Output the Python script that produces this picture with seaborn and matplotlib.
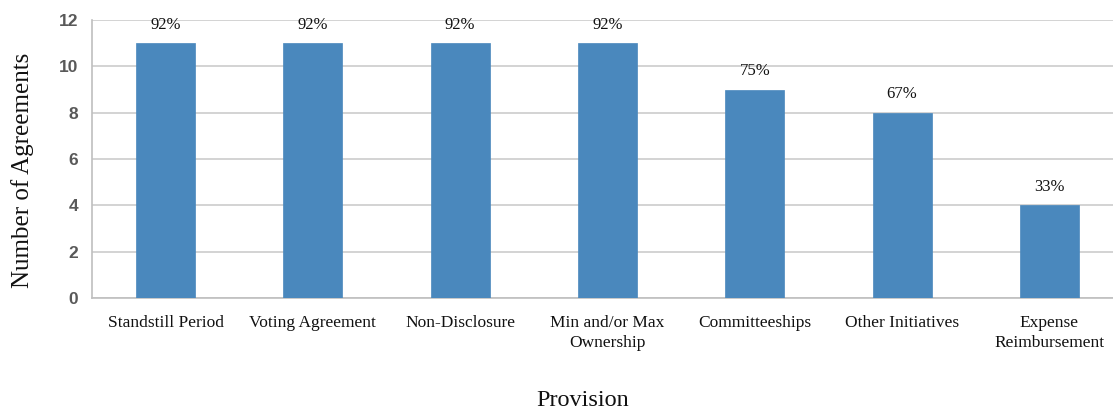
import matplotlib
matplotlib.use("Agg")
import matplotlib.pyplot as plt
import seaborn as sns
import pandas as pd

categories = ["Standstill Period", "Voting Agreement", "Non-Disclosure",
              "Min and/or Max\nOwnership", "Committeeships", "Other Initiatives",
              "Expense\nReimbursement"]
counts = [11, 11, 11, 11, 9, 8, 4]
pct_labels = ["92%", "92%", "92%", "92%", "75%", "67%", "33%"]
y_ticks = [0, 2, 4, 6, 8, 10, 12]

df = pd.DataFrame({"Provision": categories, "Count": counts})

sns.set_theme(style="white")
serif = ["Liberation Serif", "DejaVu Serif"]

fig = plt.figure(figsize=(11.13, 4.12), dpi=100)
W, H = 1113, 412
left, right, top, bottom = 92, 1123, 20, 298
ax = fig.add_axes([left / W, (H - bottom) / H, (right - left) / W, (bottom - top) / H])

sns.barplot(data=df, x="Provision", y="Count", color="#4A88BD", width=0.4,
            saturation=1, ax=ax, zorder=3, edgecolor="#4A88BD", linewidth=0.5)

ax.set_ylim(0, 12)
ax.set_xlim(-0.5, len(categories) - 0.5)
ax.set_yticks(y_ticks)
ax.yaxis.grid(True, color="#cccccc", linewidth=1.2, zorder=0)
ax.xaxis.grid(False)
ax.set_axisbelow(True)

for s in ["top", "right"]:
    ax.spines[s].set_visible(False)
for s in ["left", "bottom"]:
    ax.spines[s].set_color("#bfbfbf")
    ax.spines[s].set_linewidth(1.2)

ax.set_xticks(range(len(categories)))
ax.set_xticklabels(categories, fontfamily=serif, fontsize=12.5, color="#111111",
                   linespacing=1.4)
ax.tick_params(axis="x", length=0, pad=12)
ax.set_xticks([i - 0.5 for i in range(len(categories) + 1)], minor=True)
ax.tick_params(axis="x", which="minor", length=5, color="#bfbfbf", width=1.2, direction="out")

ax.tick_params(axis="y", length=0, pad=10)
for lab in ax.get_yticklabels():
    lab.set_fontfamily(["Liberation Sans", "DejaVu Sans"])
    lab.set_fontweight("bold")
    lab.set_fontsize(12.5)
    lab.set_color("#595959")

for i, (c, p) in enumerate(zip(counts, pct_labels)):
    ax.text(i, c + 0.45, p, ha="center", va="bottom", fontfamily=serif,
            fontsize=12, color="#111111")

ax.set_xlabel("")
ax.set_ylabel("Number of Agreements", fontfamily=serif, fontsize=18, color="#111111")
ax.yaxis.set_label_coords(-58 / (right - left), 0.46)
fig.text(583 / W, (H - 400) / H, "Provision", ha="center", va="center",
         fontfamily=serif, fontsize=17.5, color="#111111")

fig.savefig("out.png", dpi=100)
